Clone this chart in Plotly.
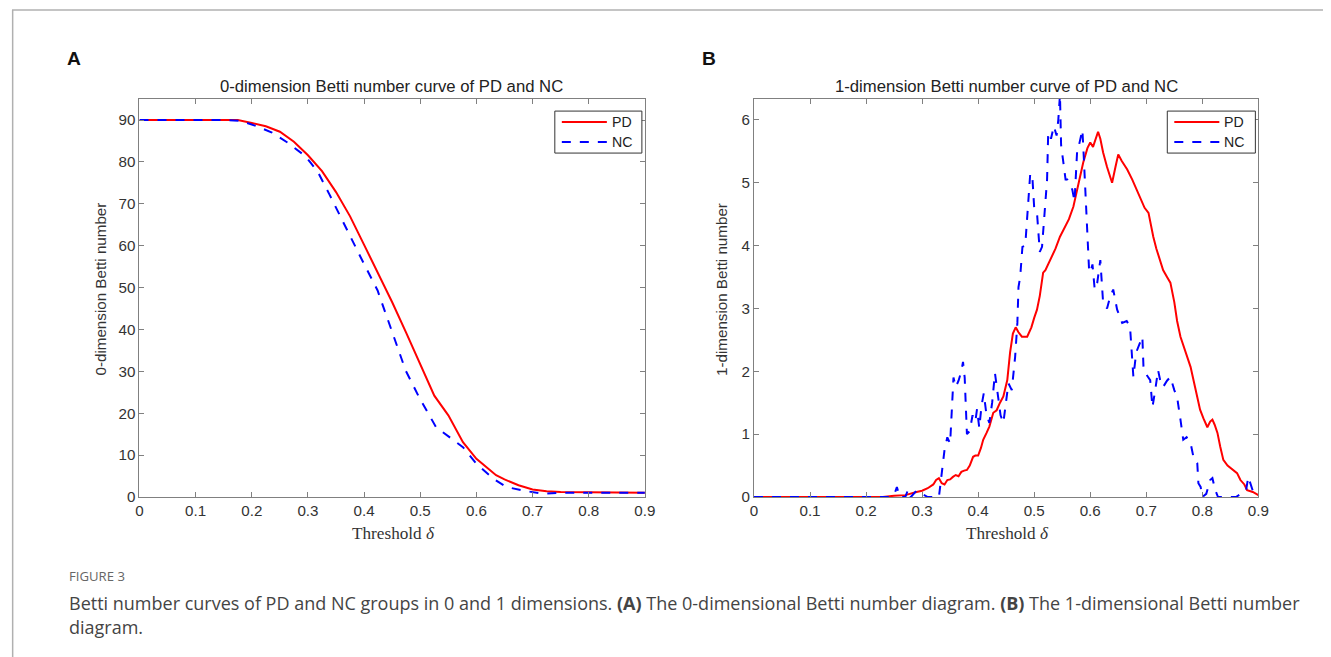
import plotly.graph_objects as go

# Figure size and the mapping from reference-pixel positions to figure fractions
FW, FH = 1335, 657
SC, OX, OY = 0.988, 12.6, 7.9

# ---------------- Panel A data (0-dimension Betti number) ----------------
pd0_x = [0, 0.025, 0.05, 0.075, 0.1, 0.125, 0.15, 0.175, 0.2, 0.225, 0.25, 0.275, 0.3,
         0.325, 0.35, 0.375, 0.4, 0.425, 0.45, 0.475, 0.5, 0.525, 0.55, 0.576, 0.6,
         0.635, 0.65, 0.675, 0.7, 0.725, 0.75, 0.8, 0.85, 0.9]
pd0_y = [90, 90, 90, 90, 90, 90, 90, 90, 89.3, 88.5, 87.2, 84.8, 81.6,
         77.8, 72.8, 67.0, 60.2, 53.4, 46.5, 39.2, 31.8, 24.2, 19.5, 13.1, 9.1,
         5.2, 4.2, 2.8, 1.8, 1.4, 1.2, 1.1, 1.0, 1.0]

nc0_x = [0, 0.05, 0.1, 0.15, 0.18, 0.207, 0.236, 0.265, 0.296, 0.318, 0.338, 0.367, 0.397,
         0.424, 0.439, 0.457, 0.474, 0.498, 0.528, 0.552, 0.576, 0.6, 0.63, 0.653, 0.689,
         0.718, 0.75, 0.8, 0.85, 0.9]
nc0_y = [90, 90, 90, 90, 89.8, 88.6, 87.0, 84.5, 81.3, 77.5, 72.3, 64.4, 56.4,
         49.3, 43.7, 36.6, 30.2, 23.8, 16.7, 14.3, 11.9, 7.9, 4.4, 2.4, 1.4,
         0.8, 1.0, 1.0, 1.0, 1.0]

# ---------------- Panel B data (1-dimension Betti number) ----------------
pd1_x = [0, 0.23, 0.25, 0.27, 0.29, 0.30, 0.31, 0.32, 0.325, 0.33, 0.335, 0.34, 0.345,
         0.35, 0.355, 0.36, 0.365, 0.37, 0.375, 0.38, 0.385, 0.391, 0.395, 0.4, 0.405,
         0.409, 0.415, 0.42, 0.427, 0.433, 0.439, 0.445, 0.452, 0.457, 0.462, 0.467,
         0.472, 0.478, 0.4875, 0.495, 0.5, 0.505, 0.51, 0.516, 0.52, 0.53, 0.538, 0.546,
         0.555, 0.562, 0.57, 0.58, 0.5875, 0.595, 0.6, 0.605, 0.614, 0.618, 0.623, 0.63,
         0.639, 0.645, 0.65, 0.656, 0.666, 0.675, 0.682, 0.689, 0.697, 0.704, 0.707,
         0.7125, 0.718, 0.725, 0.73, 0.737, 0.743, 0.75, 0.755, 0.761, 0.77, 0.779,
         0.787, 0.796, 0.802, 0.809, 0.814, 0.818, 0.822, 0.827, 0.832, 0.8375, 0.845,
         0.855, 0.862, 0.868, 0.875, 0.88, 0.89, 0.9]
pd1_y = [0, 0, 0.02, 0.03, 0.08, 0.1, 0.14, 0.2, 0.27, 0.3, 0.22, 0.2, 0.27,
         0.28, 0.32, 0.35, 0.33, 0.4, 0.42, 0.43, 0.5, 0.64, 0.66, 0.66, 0.78,
         0.91, 1.02, 1.12, 1.34, 1.38, 1.5, 1.6, 1.86, 2.3, 2.6, 2.7,
         2.62, 2.55, 2.55, 2.7, 2.85, 2.98, 3.2, 3.57, 3.61, 3.8, 3.95, 4.14,
         4.3, 4.42, 4.62, 5.0, 5.32, 5.55, 5.64, 5.57, 5.81, 5.7, 5.48, 5.25,
         5.0, 5.25, 5.45, 5.35, 5.21, 5.05, 4.9, 4.78, 4.6, 4.52, 4.36,
         4.14, 3.95, 3.77, 3.61, 3.5, 3.41, 3.1, 2.8, 2.55, 2.3, 2.07,
         1.75, 1.39, 1.25, 1.11, 1.2, 1.23, 1.15, 1.02, 0.8, 0.59, 0.5,
         0.43, 0.38, 0.27, 0.2, 0.11, 0.08, 0.03]

nc1_x = [0, 0.24, 0.25, 0.255, 0.26, 0.27, 0.275, 0.28, 0.29, 0.30, 0.31, 0.33, 0.335,
         0.34, 0.345, 0.35, 0.352, 0.356, 0.36, 0.365, 0.37, 0.373, 0.376, 0.38, 0.385,
         0.39, 0.395, 0.398, 0.402, 0.406, 0.41, 0.415, 0.42, 0.425, 0.43, 0.435, 0.44,
         0.445, 0.45, 0.454, 0.46, 0.466, 0.47, 0.472, 0.475, 0.479, 0.484, 0.4875, 0.493,
         0.497, 0.5, 0.505, 0.51, 0.514, 0.518, 0.523, 0.525, 0.53, 0.535, 0.54, 0.543,
         0.546, 0.548, 0.552, 0.556, 0.559, 0.565, 0.568, 0.572, 0.577, 0.58, 0.586,
         0.588, 0.591, 0.595, 0.598, 0.6, 0.604, 0.608, 0.6125, 0.618, 0.623, 0.63,
         0.636, 0.641, 0.648, 0.657, 0.665, 0.671, 0.677, 0.682, 0.688, 0.693, 0.695,
         0.7, 0.707, 0.711, 0.716, 0.721, 0.725, 0.73, 0.737, 0.743, 0.75, 0.755, 0.761,
         0.766, 0.772, 0.779, 0.785, 0.791, 0.793, 0.797, 0.8, 0.807, 0.814, 0.818,
         0.823, 0.828, 0.86, 0.87, 0.878, 0.882, 0.886, 0.89, 0.9]
nc1_y = [0, 0, 0.03, 0.16, 0.0, 0.0, 0.12, 0.0, 0.1, 0.05, 0.0, 0.0, 0.35,
         0.75, 0.95, 0.85, 1.2, 1.9, 1.75, 1.85, 2.0, 2.15, 1.9, 1.0, 1.05,
         1.3, 1.2, 1.4, 1.1, 1.45, 1.65, 1.3, 1.18, 1.5, 1.97, 1.6, 1.3,
         1.18, 1.5, 1.81, 1.7, 2.23, 2.77, 3.34, 3.5, 3.98, 4.0, 4.41, 5.15,
         5.05, 4.6, 4.52, 3.9, 3.98, 4.5, 5.05, 5.8, 5.7, 5.9, 5.75, 6.0,
         6.4, 5.6, 5.32, 5.05, 5.05, 4.95, 4.89, 4.7, 5.57, 5.6, 5.84,
         5.5, 4.89, 3.98, 3.6, 3.57, 3.7, 3.3, 3.41, 3.77, 3.09, 3.0,
         3.2, 3.3, 2.98, 2.77, 2.8, 2.71, 1.91, 2.3, 2.45, 2.55, 2.07,
         1.95, 1.86, 1.43, 1.7, 2.02, 1.85, 1.75, 1.85, 1.91, 1.7, 1.59, 1.23,
         0.91, 0.95, 0.86, 0.6, 0.54, 0.22, 0.16, 0.0, 0.05, 0.27, 0.3,
         0.11, 0.0, 0.0, 0.05, 0.1, 0.32, 0.2, 0.1, 0.08]

x_ticks = [0, 0.1, 0.2, 0.3, 0.4, 0.5, 0.6, 0.7, 0.8, 0.9]
x_tick_labels = ["0", "0.1", "0.2", "0.3", "0.4", "0.5", "0.6", "0.7", "0.8", "0.9"]
y0_ticks = [0, 10, 20, 30, 40, 50, 60, 70, 80, 90]
y1_ticks = [0, 1, 2, 3, 4, 5, 6]
series_names = ["PD", "NC"]

RED = "#ff0000"
BLUE = "#0000ff"
SANS = "Liberation Sans, Arial, sans-serif"
SERIF = "Liberation Serif, Times New Roman, serif"
CAP = "Open Sans, sans-serif"


def px(x):
    return ((x - OX) / SC) / FW


def py(y):
    return 1 - ((y - OY) / SC) / FH


def fs(s):
    return s / SC


fig = go.Figure()
fig.add_trace(go.Scatter(x=pd0_x, y=pd0_y, mode="lines", name=series_names[0],
                         line=dict(color=RED, width=2), xaxis="x", yaxis="y"))
fig.add_trace(go.Scatter(x=nc0_x, y=nc0_y, mode="lines", name=series_names[1],
                         line=dict(color=BLUE, width=2, dash="dash"), xaxis="x", yaxis="y"))
fig.add_trace(go.Scatter(x=pd1_x, y=pd1_y, mode="lines", name=series_names[0],
                         line=dict(color=RED, width=2), xaxis="x2", yaxis="y2"))
fig.add_trace(go.Scatter(x=nc1_x, y=nc1_y, mode="lines", name=series_names[1],
                         line=dict(color=BLUE, width=2, dash="dash"), xaxis="x2", yaxis="y2"))

axis_common = dict(showline=True, linecolor="#808080", linewidth=1, mirror="allticks",
                   ticks="inside", ticklen=5, tickcolor="#808080", showgrid=False, zeroline=False,
                   tickfont=dict(family=SANS, size=fs(15), color="#333333"))

dom_y = [py(497), py(99)]
fig.update_layout(
    width=FW, height=FH, margin=dict(l=0, r=0, t=0, b=0),
    paper_bgcolor="white", plot_bgcolor="white", showlegend=False,
    xaxis=dict(domain=[px(140), px(645)], range=[0, 0.9], tickvals=x_ticks, ticktext=x_tick_labels,
               anchor="y", **axis_common),
    yaxis=dict(domain=dom_y, range=[0, 95], tickvals=y0_ticks, anchor="x", **axis_common),
    xaxis2=dict(domain=[px(754), px(1258)], range=[0, 0.9], tickvals=x_ticks, ticktext=x_tick_labels,
                anchor="y2", **axis_common),
    yaxis2=dict(domain=dom_y, range=[0, 6.33], tickvals=y1_ticks, anchor="x2", **axis_common),
)

ann = []
shapes = []
# panel letters
ann.append(dict(text="<b>A</b>", x=px(75), y=py(58), font=dict(family=SANS, size=fs(19), color="#111")))
ann.append(dict(text="<b>B</b>", x=px(709), y=py(58), font=dict(family=SANS, size=fs(19), color="#111")))
# titles
ann.append(dict(text="0-dimension Betti number curve of PD and NC", x=px(392), y=py(86),
                font=dict(family=SANS, size=fs(16.5), color="#222")))
ann.append(dict(text="1-dimension Betti number curve of PD and NC", x=px(1006), y=py(86),
                font=dict(family=SANS, size=fs(16.5), color="#222")))
# y axis titles
ann.append(dict(text="0-dimension Betti number", x=px(101), y=py(289), textangle=-90,
                font=dict(family=SANS, size=fs(15), color="#333")))
ann.append(dict(text="1-dimension Betti number", x=px(721), y=py(289), textangle=-90,
                font=dict(family=SANS, size=fs(15), color="#333")))
# x axis titles
ann.append(dict(text="Threshold <i>δ</i>", x=px(394), y=py(533),
                font=dict(family=SERIF, size=fs(17), color="#333")))
ann.append(dict(text="Threshold <i>δ</i>", x=px(1007), y=py(533),
                font=dict(family=SERIF, size=fs(17), color="#333")))

# legends (MATLAB style boxed legends, top-right of each axes)
for (x0, x1) in [(555, 642), (1167, 1255)]:
    shapes.append(dict(type="rect", xref="paper", yref="paper", x0=px(x0), x1=px(x1),
                       y0=py(153), y1=py(111), line=dict(color="#333333", width=1),
                       fillcolor="white", layer="above"))
    shapes.append(dict(type="line", xref="paper", yref="paper", x0=px(x0 + 7), x1=px(x0 + 52),
                       y0=py(122), y1=py(122), line=dict(color=RED, width=2), layer="above"))
    shapes.append(dict(type="line", xref="paper", yref="paper", x0=px(x0 + 7), x1=px(x0 + 52),
                       y0=py(142), y1=py(142), line=dict(color=BLUE, width=2, dash="dash"),
                       layer="above"))
    ann.append(dict(text=series_names[0], x=px(x0 + 55), y=py(122), xanchor="left",
                    font=dict(family=SANS, size=fs(14), color="#222")))
    ann.append(dict(text=series_names[1], x=px(x0 + 55), y=py(142), xanchor="left",
                    font=dict(family=SANS, size=fs(14), color="#222")))

# caption
ann.append(dict(text="FIGURE 3", x=px(68), y=py(576), xanchor="left",
                font=dict(family=CAP, size=fs(13), color="#666")))
ann.append(dict(text="Betti number curves of PD and NC groups in 0 and 1 dimensions. <b>(A)</b> The 0-dimensional "
                     "Betti number diagram. <b>(B)</b> The 1-dimensional Betti number",
                x=px(68), y=py(603), xanchor="left",
                font=dict(family=CAP, size=fs(17.8), color="#444")))
ann.append(dict(text="diagram.", x=px(68), y=py(627), xanchor="left",
                font=dict(family=CAP, size=fs(17.8), color="#444")))

for a in ann:
    a.setdefault("xanchor", "center")
    a.update(xref="paper", yref="paper", yanchor="middle", showarrow=False)

# frame lines (top and left)
shapes.append(dict(type="line", xref="paper", yref="paper", x0=0, x1=1.0, y0=py(10), y1=py(10),
                   line=dict(color="#b0b0b0", width=1.5)))
shapes.append(dict(type="line", xref="paper", yref="paper", x0=0.0005, x1=0.0005, y0=py(10), y1=0,
                   line=dict(color="#b0b0b0", width=1.5)))

fig.update_layout(annotations=ann, shapes=shapes)

fig.write_html("out.html")
